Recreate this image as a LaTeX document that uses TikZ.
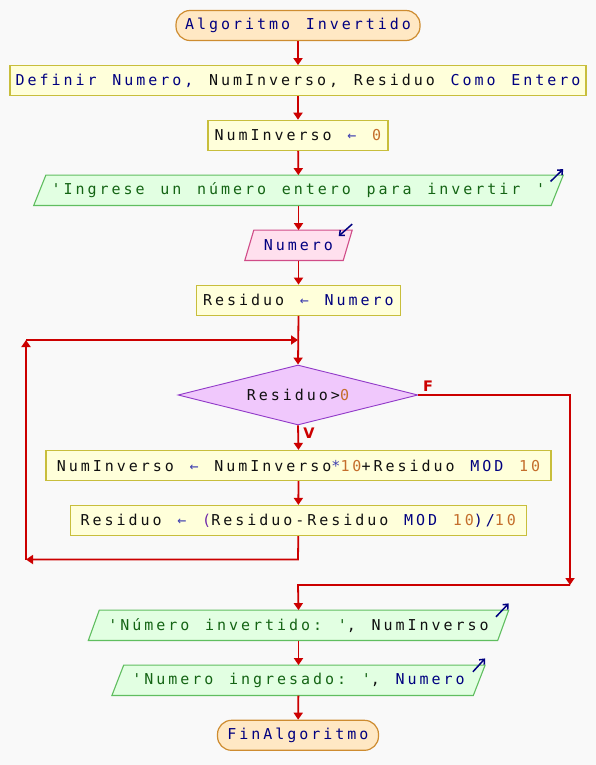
\documentclass[tikz,border=0pt]{standalone}
\usepackage{fontspec}
\usetikzlibrary{arrows.meta,backgrounds,shapes.geometric}
\newfontfamily\psf[LetterSpace=19.8,WordSpace={1.31,0,0}]{DejaVu Sans Mono}
\newfontfamily\lblf{DejaVu Sans}
\newcommand\pseintfont{\psf\fontsize{15}{17}\selectfont\frenchspacing}
\newcommand\lblfont{\lblf\bfseries\fontsize{14.5}{16}\selectfont}
\definecolor{bgc}{RGB}{249,249,249}
\definecolor{kwc}{RGB}{0,0,128}
\definecolor{varc}{RGB}{16,16,16}
\definecolor{numc}{RGB}{196,110,44}
\definecolor{strc}{RGB}{20,100,20}
\definecolor{opc}{RGB}{64,64,176}
\definecolor{parc}{RGB}{110,40,170}
\definecolor{procf}{RGB}{255,255,218}
\definecolor{procd}{RGB}{200,190,60}
\definecolor{termf}{RGB}{255,232,196}
\definecolor{termd}{RGB}{206,140,48}
\definecolor{outf}{RGB}{226,255,226}
\definecolor{outd}{RGB}{96,190,96}
\definecolor{inf}{RGB}{255,224,238}
\definecolor{ind}{RGB}{208,76,136}
\definecolor{decf}{RGB}{240,200,252}
\definecolor{decd}{RGB}{144,56,200}
\definecolor{flowc}{RGB}{204,0,0}
\newcommand\kw[1]{\textcolor{kwc}{#1}}
\newcommand\nm[1]{\textcolor{numc}{#1}}
\newcommand\st[1]{\textcolor{strc}{#1}}
\newcommand\op[1]{\textcolor{opc}{#1}}
\newcommand\pc[1]{\textcolor{parc}{#1}}
\newcommand\mypara[4]{%
  \path[fill=#3,draw=#4,line width=1.1pt] ([xshift=#2]#1.north west) -- ([xshift=#2]#1.north east)
   -- ([xshift=-#2]#1.south east) -- ([xshift=-#2]#1.south west) -- cycle;}
\tikzset{
  base/.style={font=\pseintfont, text=varc, minimum height=30pt, inner xsep=2pt, inner ysep=0pt, anchor=center},
  proc/.style={base, rectangle, draw=procd, fill=procf, line width=1.2pt},
  term/.style={base, rectangle, rounded corners=14pt, draw=termd, fill=termf, line width=1.2pt},
  io/.style={base, rectangle},
  dec/.style={base, diamond, aspect=4, draw=decd, fill=decf, line width=0.9pt,
    minimum width=240pt, minimum height=60pt, inner sep=0pt},
  flow/.style={draw=flowc, line width=1.8pt, -{Triangle[width=9pt,length=7pt]}},
  icon/.style={draw=kwc, line width=1.5pt, -{Straight Barb[length=4pt,width=7pt]}},
  lbl/.style={font=\lblfont, text=flowc, inner sep=0pt}
}
\begin{document}
\begin{tikzpicture}[x=1pt,y=-1pt]
\useasboundingbox (0,0) rectangle (596,765);

\node[term, minimum width=244pt] (start) at (298,25.5) {\kw{Algoritmo Invertido}};
\node[proc, minimum width=576pt] (def) at (298,80.7) {\kw{Definir Numero,} NumInverso, Residuo \kw{Como Entero}};
\node[proc, minimum width=180pt] (ni) at (298,135.3) {NumInverso \op{←} \nm{0}};
\node[io, minimum width=517pt] (o1) at (298.5,190.3) {\st{'Ingrese un número entero para invertir '}};
\node[io, minimum width=98pt] (in) at (298.5,245.3) {\kw{Numero}};
\node[proc, minimum width=204pt] (rn) at (298.5,300.2) {Residuo \op{←} \kw{Numero}};
\node[dec] (dia) at (298,395) {Residuo>\nm{0}};
\node[proc, minimum width=505pt] (b1) at (298.5,465.5) {NumInverso \op{←} NumInverso\op{*}\nm{10}+Residuo \kw{MOD} \nm{10}};
\node[proc, minimum width=456pt] (b2) at (298.3,520.5) {Residuo \op{←} \pc{(}Residuo-Residuo \kw{MOD} \nm{10}\kw{)/}\nm{10}};
\node[io, minimum width=409pt] (o2) at (298.5,625.3) {\st{'Número invertido: '}, NumInverso};
\node[io, minimum width=361pt] (o3) at (298.5,680.3) {\st{'Numero ingresado: '}, \kw{Numero}};
\node[term, minimum width=161pt] (end) at (298,735.3) {\kw{FinAlgoritmo}};

\begin{scope}[on background layer]
\path[fill=bgc] (0,0) rectangle (596,765);
\mypara{o1}{6.1pt}{outf}{outd}
\mypara{in}{4.5pt}{inf}{ind}
\mypara{o2}{5.5pt}{outf}{outd}
\mypara{o3}{5.9pt}{outf}{outd}
\end{scope}

% I/O icons
\draw[icon] ([shift={(-6.7,6.4)}]o1.north east) -- ([shift={(6,-6)}]o1.north east);
\draw[icon] ([shift={(4.5,-6)}]in.north east) -- ([shift={(-9,6)}]in.north east);
\draw[icon] ([shift={(-7.2,6.7)}]o2.north east) -- ([shift={(5.5,-6.7)}]o2.north east);
\draw[icon] ([shift={(-6.3,6.7)}]o3.north east) -- ([shift={(5.9,-6.7)}]o3.north east);

% main flow
\draw[flow] (start) -- (def);
\draw[flow] (def) -- (ni);
\draw[flow] (ni) -- (o1);
\draw[flow] (o1) -- (in);
\draw[flow] (in) -- (rn);
\draw[flow] (rn.south) -- (dia.north);
\draw[flow] (dia.south) -- (b1.north);
\draw[flow] (b1) -- (b2);

% loop back
\coordinate (lb0) at (298,559.5);
\coordinate (lb) at (26,559.5);
\coordinate (lt) at (26,340);
\coordinate (jn) at (298,340);
\draw[flow] (b2.south) -- (lb0) -- (lb);
\draw[flow] (lb) -- (lt);
\draw[flow] (lt) -- (jn);

% false branch
\coordinate (fr) at (570,395);
\coordinate (fb) at (570,585);
\coordinate (fj) at (298,585);
\draw[flow] (dia.east) -- (fr) -- (fb);
\draw[flow] (fb) -- (fj) -- (o2.north);

\draw[flow] (o2) -- (o3);
\draw[flow] (o3) -- (end);

\node[lbl] (lf) at (428,386) {F};
\node[lbl] (lv) at (309,433.5) {V};
\end{tikzpicture}
\end{document}
